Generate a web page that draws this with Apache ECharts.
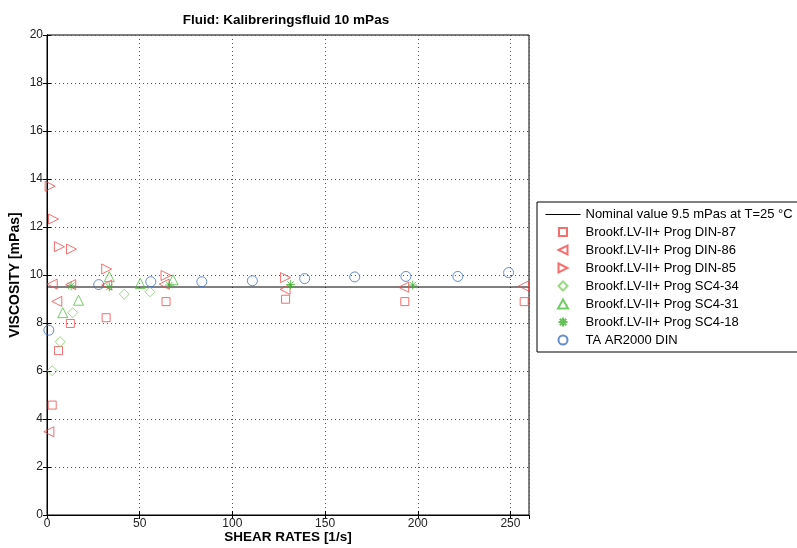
<!DOCTYPE html>
<html>
<head>
<meta charset="utf-8">
<title>Kalibreringsfluid 10 mPas</title>
<script src="https://cdn.jsdelivr.net/npm/echarts@6/dist/echarts.min.js"></script>
<style>
  html, body { margin: 0; padding: 0; background: #fff; }
  #chart { width: 797px; height: 548px; }
</style>
</head>
<body>
<div id="chart"></div>
<script>
// data: [shear rate 1/s, viscosity mPas]
var nominal = [[0, 9.5], [260, 9.5]];
var din87 = [[2.8, 4.58], [6.2, 6.85], [12.6, 7.98], [31.9, 8.22], [64.2, 8.89], [128.7, 8.99], [193, 8.89], [257.4, 8.89]];
var din86 = [[1, 3.47], [2.8, 9.62], [5.3, 8.9], [12.8, 9.6], [32.2, 9.58], [63.2, 9.62], [128.4, 9.4], [192.4, 9.49], [257, 9.54]];
var din85 = [[1.7, 13.7], [3.5, 12.33], [6.7, 11.18], [13.2, 11.08], [32.2, 10.25], [64.2, 9.98], [128.7, 9.89]];
var sc434 = [[2.8, 6.01], [7.1, 7.22], [13.9, 8.43], [41.7, 9.2], [55.5, 9.3]];
var sc431 = [[8.5, 8.43], [17, 8.95], [33.6, 9.93], [50.3, 9.65], [68, 9.8]];
var sc418 = [[13, 9.55], [33.6, 9.5], [66, 9.58], [131.4, 9.6], [197.3, 9.58]];
var ar2000 = [[1, 7.7], [27.9, 9.6], [56, 9.72], [83.5, 9.72], [110.8, 9.76], [139, 9.85], [166, 9.92], [193.6, 9.94], [221.6, 9.94], [249, 10.1]];

var names = [
  'Nominal value 9.5 mPas at T=25 °C',
  'Brookf.LV-II+ Prog DIN-87',
  'Brookf.LV-II+ Prog DIN-86',
  'Brookf.LV-II+ Prog DIN-85',
  'Brookf.LV-II+ Prog SC4-34',
  'Brookf.LV-II+ Prog SC4-31',
  'Brookf.LV-II+ Prog SC4-18',
  'TA AR2000 DIN'
];

var red = '#f24a4a';
var asterisk = 'path://M0,-5L0,5M-5,0L5,0M-3.6,-3.6L3.6,3.6M-3.6,3.6L3.6,-3.6';
var font = 'Liberation Sans, Arial, sans-serif';

// legend icons: 35x9 box (the two leading moves fix the box), mark drawn in the middle
var box = 'path://M0,0M35,9';
var legendIcons = [
  box + 'M0,4.5L35,4.5L35,5.5L0,5.5Z',
  box + 'M13.5,0.5L21.5,0.5L21.5,8.5L13.5,8.5Z',
  box + 'M13,4.5L22,0L22,9Z',
  box + 'M13,0L22,4.5L13,9Z',
  box + 'M17.5,0L22,4.5L17.5,9L13,4.5Z',
  box + 'M17.5,0L22.5,9L12.5,9Z',
  box + 'M17.5,0L17.5,9M13,4.5L22,4.5M14.3,1.3L20.7,7.7M14.3,7.7L20.7,1.3',
  'circle'
];

// open marker scatter series
function marks(name, data, symbol, size, color, rotate) {
  return {
    name: name,
    type: 'scatter',
    data: data,
    symbol: symbol,
    symbolSize: size,
    symbolRotate: rotate || 0,
    symbolKeepAspect: true,
    itemStyle: { color: 'none', borderColor: color, borderWidth: 1 },
    emphasis: { disabled: true },
    z: 3
  };
}

var myChart = echarts.init(document.getElementById('chart'));
myChart.setOption({
  animation: false,
  graphic: [{
    type: 'text',
    x: 286, y: 20,
    style: {
      text: 'Fluid: Kalibreringsfluid 10 mPas',
      font: 'bold 13.5px ' + font,
      fill: '#000',
      textAlign: 'center',
      textVerticalAlign: 'middle'
    }
  }],
  grid: {
    left: 47, right: 268, top: 35, bottom: 33,
    outerBoundsMode: 'none',
    show: true, borderColor: '#000', borderWidth: 1
  },
  legend: {
    orient: 'vertical',
    left: 537, top: 202,
    padding: [5, 6, 5, 6],
    itemWidth: 35, itemHeight: 9, itemGap: 4,
    backgroundColor: '#fff',
    borderColor: '#000', borderWidth: 1,
    selectedMode: false,
    textStyle: { fontSize: 13, lineHeight: 14, color: '#000', fontFamily: font },
    data: names.map(function (n, i) {
      return i === 0 ? { name: n, icon: legendIcons[i], itemStyle: { color: '#000' } } : { name: n, icon: legendIcons[i] };
    })
  },
  xAxis: [{
    type: 'value', min: 0, max: 260, interval: 50,
    name: 'SHEAR RATES [1/s]', nameLocation: 'middle', nameGap: 14, nameMoveOverlap: false,
    nameTextStyle: { fontWeight: 'bold', fontSize: 13.5, lineHeight: 16, color: '#000', fontFamily: font },
    axisLine: { lineStyle: { color: '#000' } },
    axisTick: { inside: true, length: 4, lineStyle: { color: '#000' } },
    axisLabel: { margin: 3, fontSize: 12, color: '#222', fontFamily: font, showMaxLabel: false },
    splitLine: { lineStyle: { type: [1, 3], color: '#555' } }
  }, {
    type: 'value', min: 0, max: 260, interval: 50, position: 'top',
    axisLine: { lineStyle: { color: '#000' } },
    axisTick: { inside: true, length: 4, lineStyle: { color: '#000' } },
    axisLabel: { show: false },
    splitLine: { show: false }
  }],
  yAxis: [{
    type: 'value', min: 0, max: 20, interval: 2,
    name: 'VISCOSITY [mPas]', nameLocation: 'middle', nameGap: 24, nameMoveOverlap: false,
    nameTextStyle: { fontWeight: 'bold', fontSize: 14, lineHeight: 16, color: '#000', fontFamily: font },
    axisLine: { lineStyle: { color: '#000' } },
    axisTick: { inside: true, length: 4, lineStyle: { color: '#000' } },
    axisLabel: { margin: 4, fontSize: 12, color: '#222', fontFamily: font },
    splitLine: { lineStyle: { type: [1, 3], color: '#555' } }
  }, {
    type: 'value', min: 0, max: 20, interval: 2, position: 'right',
    axisLine: { lineStyle: { color: '#000' } },
    axisTick: { inside: true, length: 4, lineStyle: { color: '#000' } },
    axisLabel: { show: false },
    splitLine: { show: false }
  }],
  series: [
    {
      name: names[0], type: 'line', data: nominal,
      symbol: 'none', lineStyle: { color: '#000', width: 1 }, itemStyle: { color: '#000' },
      emphasis: { disabled: true }, z: 2
    },
    marks(names[1], din87, 'rect', 8, red),
    marks(names[2], din86, 'triangle', 10, red, 90),
    marks(names[3], din85, 'triangle', 10, red, -90),
    marks(names[4], sc434, 'diamond', 10, '#80d064'),
    marks(names[5], sc431, 'triangle', 10, '#4cc03c'),
    marks(names[6], sc418, asterisk, 9, '#3cb030'),
    marks(names[7], ar2000, 'circle', 10, '#3f6fc4')
  ]
});
</script>
</body>
</html>
